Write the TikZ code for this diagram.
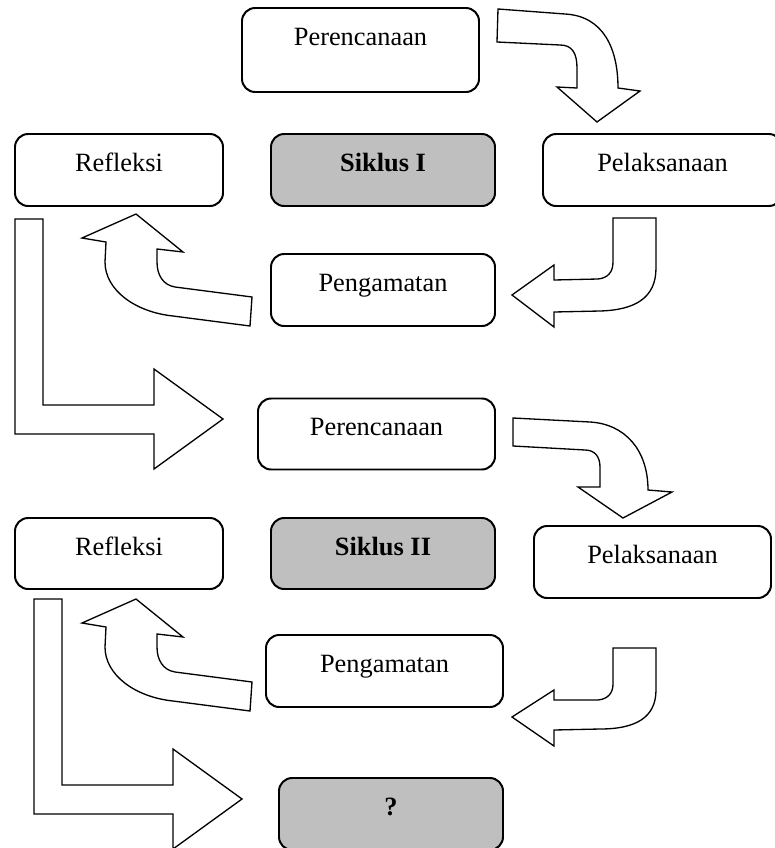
\documentclass[tikz,border=0pt]{standalone}
\usepackage{fontspec}
\setmainfont{Liberation Serif}
\usetikzlibrary{calc}
\definecolor{shade}{HTML}{BFBFBF}
\definecolor{ink}{HTML}{000000}
\def\pxu{0.455pt}   % one reference pixel
\tikzset{
  x=0.455pt, y=-0.455pt,
  box/.style={draw=ink, line width=0.9pt, rounded corners=6pt, fill=white, inner sep=0pt},
  cycbox/.style={box, fill=shade},
  lab/.style={font=\fontsize{12}{14}\selectfont, anchor=base, inner sep=0pt},
  boldlab/.style={lab, font=\fontsize{12}{14}\selectfont\bfseries},
  blockarrow/.style={draw=ink, fill=white, line width=0.6pt, line join=miter},
}

\begin{document}
\begin{tikzpicture}

\path[use as bounding box, fill=white] (0,0) rectangle (774,848);

% ---------------- cycle I ----------------
\node[box, minimum width=237*\pxu, minimum height=84*\pxu] (plan1) at (360.5,50) {};
\node[lab] (plan1lab) at ($(plan1.north)+(0,38)$) {Perencanaan};

\node[box, minimum width=208*\pxu, minimum height=72*\pxu] (refl1) at (119,170) {};
\node[lab] (refl1lab) at ($(refl1.north)+(0,38)$) {Refleksi};

\node[cycbox, minimum width=224*\pxu, minimum height=72*\pxu] (cyc1) at (383,170) {};
\node[boldlab] (cyc1lab) at ($(cyc1.north)+(0,38)$) {Siklus I};

\node[box, minimum width=239*\pxu, minimum height=72*\pxu] (exec1) at (662.5,170) {};
\node[lab] (exec1lab) at ($(exec1.north)+(0,38)$) {Pelaksanaan};

\node[box, minimum width=224*\pxu, minimum height=72*\pxu] (obs1) at (383,290) {};
\node[lab] (obs1lab) at ($(obs1.north)+(0,38)$) {Pengamatan};

% ---------------- cycle II ----------------
\node[box, minimum width=237*\pxu, minimum height=71*\pxu] (plan2) at (376.5,434) {};
\node[lab] (plan2lab) at ($(plan2.north)+(0,38)$) {Perencanaan};

\node[box, minimum width=208*\pxu, minimum height=71*\pxu] (refl2) at (119,553.5) {};
\node[lab] (refl2lab) at ($(refl2.north)+(0,38)$) {Refleksi};

\node[cycbox, minimum width=224*\pxu, minimum height=71*\pxu] (cyc2) at (383,553.5) {};
\node[boldlab] (cyc2lab) at ($(cyc2.north)+(0,38)$) {Siklus II};

\node[box, minimum width=237*\pxu, minimum height=72*\pxu] (exec2) at (652.5,562) {};
\node[lab] (exec2lab) at ($(exec2.north)+(0,38)$) {Pelaksanaan};

\node[box, minimum width=237*\pxu, minimum height=72*\pxu] (obs2) at (384.5,671) {};
\node[lab] (obs2lab) at ($(obs2.north)+(0,38)$) {Pengamatan};

\node[cycbox, minimum width=224*\pxu, minimum height=72*\pxu] (next) at (391,814) {};
\node[boldlab] (nextlab) at ($(next.north)+(0,38)$) {?};

% ---------------- block arrows ----------------
% planning -> action, cycle I
\draw[blockarrow] (498,9) -- (565,14) .. controls (603,16) and (618,48) .. (618,88)
  -- (640,91) -- (597,122) -- (557,87) -- (577,88) -- (577,68)
  .. controls (577,53) and (572,45) .. (560,45) -- (497,42) -- cycle;

% action -> observation, cycle I
\draw[blockarrow] (613,218) -- (656,218) -- (656,268) .. controls (656,298) and (635,310) .. (600,311)
  -- (554,312) -- (554,327) -- (512,295) -- (554,265) -- (554,280) -- (598,279)
  .. controls (608,278) and (613,272) .. (613,262) -- cycle;

% observation -> reflection, both cycles
\foreach \dy in {0,385} {
  \draw[blockarrow, shift={(0,\dy)}] (252,297) -- (175,287) .. controls (163,285) and (157,275) .. (157,262)
    -- (157,249) -- (183,252) -- (136,214) -- (82,238) -- (106,242) -- (105,262)
    .. controls (105,290) and (135,312) .. (173,316) -- (250,326) -- cycle;
}

% reflection -> next planning, both cycles
\foreach \dx/\dy in {0/0,19/380} {
  \draw[blockarrow, shift={(\dx,\dy)}] (15,219) -- (43,219) -- (43,405) -- (154,405) -- (154,369)
    -- (223,419) -- (154,469) -- (154,434) -- (15,434) -- cycle;
}

% planning -> action, cycle II
\draw[blockarrow] (513,418) -- (590,422) .. controls (625,424) and (648,450) .. (648,490)
  -- (672,492) -- (623,518) -- (578,487) -- (600,487) -- (600,467)
  .. controls (600,457) and (595,450) .. (585,450) -- (513,446) -- cycle;

% action -> observation, cycle II
\draw[blockarrow] (613,648) -- (656,648) -- (656,690) .. controls (656,718) and (635,729) .. (600,729)
  -- (554,730) -- (554,746) -- (512,717) -- (554,690) -- (554,700) -- (598,700)
  .. controls (608,699) and (613,693) .. (613,684) -- cycle;

\end{tikzpicture}
\end{document}
